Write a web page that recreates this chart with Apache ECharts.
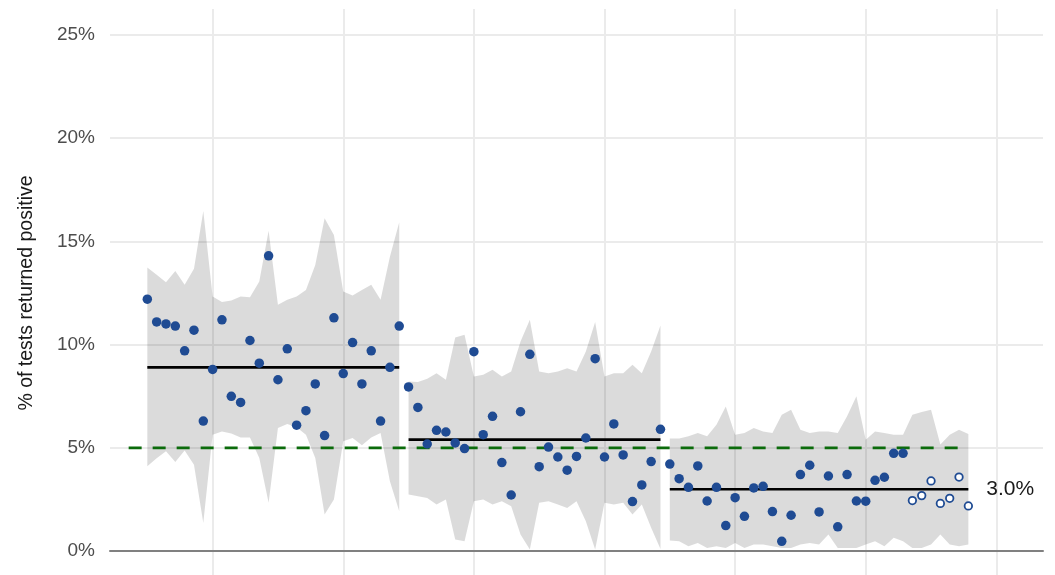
<!DOCTYPE html>
<html>
<head>
<meta charset="utf-8">
<script src="https://cdn.jsdelivr.net/npm/echarts@6/dist/echarts.min.js"></script>
<style>html,body{margin:0;padding:0;background:#fff;}#chart{width:1055px;height:575px;}</style>
</head>
<body>
<div id="chart"></div>
<script>
// ---- data (x = day index, y = % positive) ----
const segStart = [0, 28, 56];
const medians = [8.9, 5.4, 3.0];
const medianLabel = '3.0%';
const threshold = 5;
const thresholdRange = [-2, 87];
const yTicks = [0, 5, 10, 15, 20, 25];
const xTicks = [7, 21, 35, 49, 63, 77, 91];

const seg1Values = [12.2, 11.1, 11.0, 10.9, 9.7, 10.7, 6.3, 8.8, 11.2, 7.5, 7.2, 10.2, 9.1, 14.3, 8.3, 9.8, 6.1, 6.8, 8.1, 5.6, 11.3, 8.6, 10.1, 8.1, 9.7, 6.3, 8.9, 10.9];
const seg2Values = [7.95, 6.96, 5.19, 5.85, 5.77, 5.24, 4.97, 9.66, 5.64, 6.53, 4.29, 2.72, 6.75, 9.53, 4.09, 5.04, 4.56, 3.92, 4.59, 5.48, 9.32, 4.56, 6.16, 4.66, 2.40, 3.21, 4.34, 5.90];
const seg3Values = [4.22, 3.51, 3.09, 4.13, 2.43, 3.09, 1.24, 2.59, 1.69, 3.06, 3.14, 1.92, 0.48, 1.74, 3.71, 4.16, 1.90, 3.64, 1.18, 3.71, 2.43, 2.42, 3.43, 3.58, 4.74, 4.74];
const seg3Provisional = [2.45, 2.69, 3.40, 2.31, 2.56, 3.59, 2.19];

const seg1Upper = [13.73, 13.38, 13.02, 13.57, 12.9, 13.67, 16.47, 12.33, 12.06, 12.14, 12.33, 12.30, 13.06, 15.51, 11.93, 12.17, 12.33, 12.65, 13.86, 16.12, 15.31, 12.57, 12.38, 12.65, 12.9, 12.17, 14.26, 15.93];
const seg1Lower = [4.11, 4.5, 4.84, 4.32, 4.87, 4.19, 1.37, 5.64, 5.80, 5.7, 5.51, 5.5, 4.51, 2.34, 5.96, 6.16, 6.0, 5.64, 4.51, 1.77, 2.50, 5.32, 5.48, 5.13, 5.5, 5.72, 3.38, 1.93];
const seg2Upper = [8.22, 8.19, 8.35, 8.62, 8.30, 10.35, 10.48, 8.46, 8.54, 8.78, 8.46, 8.70, 10.15, 11.20, 8.70, 8.62, 8.70, 8.86, 8.70, 9.67, 11.09, 8.46, 8.62, 8.62, 9.03, 8.62, 9.67, 10.93];
const seg2Lower = [2.74, 2.66, 2.58, 2.26, 2.50, 0.57, 0.48, 2.42, 2.50, 2.26, 2.42, 2.18, 0.81, 0.08, 2.34, 2.42, 2.26, 2.09, 2.42, 1.45, 0.08, 2.34, 2.26, 2.34, 1.77, 2.26, 1.13, 0.1];
const seg3Upper = [5.45, 5.45, 5.56, 5.72, 5.56, 6.12, 7.01, 5.64, 5.72, 5.96, 5.80, 5.72, 6.61, 6.85, 5.88, 5.72, 5.80, 5.80, 5.72, 6.53, 7.50, 5.40, 5.80, 5.72, 5.64, 5.64, 6.61, 6.74, 6.85, 5.16, 5.64, 5.88, 5.67];
const seg3Lower = [0.52, 0.48, 0.24, 0.4, 0.16, 0.24, 0.16, 0.4, 0.16, 0.32, 0.32, 0.24, 0.16, 0.16, 0.32, 0.4, 0.32, 0.81, 0.16, 0.16, 0.16, 0.32, 0.48, 0.24, 0.65, 0.48, 0.16, 0.16, 0.32, 0.81, 0.32, 0.24, 0.32];

// ---- build ----
const FONT = "'Liberation Sans', Arial, sans-serif";
const BLUE = '#1f4b93';
const bands = [[seg1Upper, seg1Lower], [seg2Upper, seg2Lower], [seg3Upper, seg3Lower]];
const seg3All = seg3Values.concat(seg3Provisional);
const segValues = [seg1Values, seg2Values, seg3All];

const filled = [];
seg1Values.forEach((v, j) => filled.push([segStart[0] + j, v]));
seg2Values.forEach((v, j) => filled.push([segStart[1] + j, v]));
seg3Values.forEach((v, j) => filled.push([segStart[2] + j, v]));
const openPts = seg3Provisional.map((v, j) => [segStart[2] + seg3Values.length + j, v]);

const series = [];
series.push({
  type: 'custom',
  silent: true,
  z: 1,
  data: [0, 1, 2],
  renderItem: function (params, api) {
    const k = api.value(0);
    const [up, lo] = bands[k];
    const pts = [];
    for (let j = 0; j < up.length; j++) pts.push(api.coord([segStart[k] + j, up[j]]));
    for (let j = lo.length - 1; j >= 0; j--) pts.push(api.coord([segStart[k] + j, lo[j]]));
    return { type: 'polygon', shape: { points: pts }, style: { fill: 'rgba(0,0,0,0.14)' } };
  }
});
series.push({
  type: 'line', z: 3, symbol: 'none', silent: true,
  data: [[thresholdRange[0], threshold], [thresholdRange[1], threshold]],
  lineStyle: { color: '#0b6b0b', width: 2.8, type: [13, 11] }
});
for (let k = 0; k < 3; k++) {
  const s = {
    type: 'line', z: 4, symbol: 'none', silent: true,
    data: [[segStart[k], medians[k]], [segStart[k] + segValues[k].length - 1, medians[k]]],
    lineStyle: { color: '#000', width: 2.6 }
  };
  if (k === 2) {
    s.endLabel = { show: true, formatter: medianLabel, distance: 18, fontSize: 21, color: '#1a1a1a', fontFamily: FONT };
  }
  series.push(s);
}
series.push({
  type: 'scatter', z: 5, symbolSize: 9.5, data: filled,
  itemStyle: { color: BLUE, opacity: 1 }
});
series.push({
  type: 'scatter', z: 5, symbolSize: 7.5, data: openPts,
  itemStyle: { color: '#fff', borderColor: BLUE, borderWidth: 1.8, opacity: 1 }
});

const chart = echarts.init(document.getElementById('chart'));
chart.setOption({
  animation: false,
  backgroundColor: '#fff',
  grid: { left: 110, right: 12, top: 9, bottom: -2, containLabel: false, outerBoundsMode: 'none' },
  xAxis: {
    type: 'value', min: -4, max: 96,
    axisLine: { show: true, onZero: true, lineStyle: { color: '#808080', width: 2 } },
    axisTick: { show: false, customValues: xTicks },
    axisLabel: { show: false, customValues: xTicks },
    splitLine: { show: true, lineStyle: { color: '#ebebeb', width: 2 } }
  },
  yAxis: {
    type: 'value', min: -1.25, max: 26.25,
    name: '% of tests returned positive', nameLocation: 'middle', nameGap: 73, nameRotate: 90,
    nameTextStyle: { fontSize: 19.5, color: '#1a1a1a', fontFamily: FONT },
    axisLine: { show: false },
    axisTick: { show: false, customValues: yTicks },
    axisLabel: { customValues: yTicks, formatter: v => v + '%', fontSize: 19, color: '#4d4d4d', margin: 15, fontFamily: FONT },
    splitLine: { show: true, lineStyle: { color: '#ebebeb', width: 2 } }
  },
  series: series
});
</script>
</body>
</html>
